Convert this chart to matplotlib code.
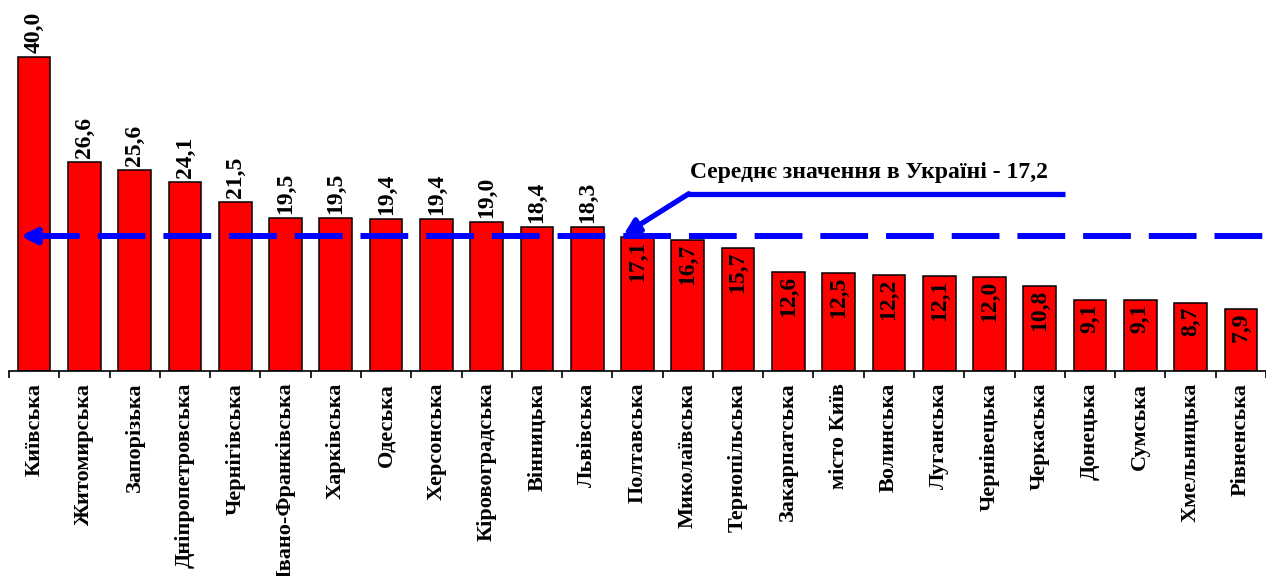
import matplotlib
matplotlib.use("Agg")
import matplotlib.pyplot as plt
import numpy as np

regions = ["Київська", "Житомирська", "Запорізька", "Дніпропетровська", "Чернігівська",
           "Івано-Франківська", "Харківська", "Одеська", "Херсонська", "Кіровоградська",
           "Вінницька", "Львівська", "Полтавська", "Миколаївська", "Тернопільська",
           "Закарпатська", "місто Київ", "Волинська", "Луганська", "Чернівецька",
           "Черкаська", "Донецька", "Сумська", "Хмельницька", "Рівненська"]
values = [40.0, 26.6, 25.6, 24.1, 21.5, 19.5, 19.5, 19.4, 19.4, 19.0, 18.4, 18.3,
          17.1, 16.7, 15.7, 12.6, 12.5, 12.2, 12.1, 12.0, 10.8, 9.1, 9.1, 8.7, 7.9]
average = 17.2
avg_label = "Середнє значення в Україні - 17,2"

FONT = "Liberation Serif"
BLUE = "#0000FF"

fig = plt.figure(figsize=(12.66, 5.76), dpi=100)
ax = fig.add_axes([9/1266, 205/576, 1257/1266, 371/576])

x = np.arange(len(values))
ax.bar(x, values, width=0.65, color="#FF0000", edgecolor="black", linewidth=1.1, zorder=2)

ax.set_xlim(-0.5, len(values) - 0.5)
ax.set_ylim(0, 47.3)

for s in ["top", "right", "left"]:
    ax.spines[s].set_visible(False)
ax.spines["bottom"].set_linewidth(1.2)
ax.set_yticks([])

ax.set_xticks(x)
ax.set_xticklabels(regions, rotation=90, fontfamily=FONT, fontweight="bold", fontsize=16)
ax.tick_params(axis="x", which="major", length=0, pad=8.5)
ax.set_xticks(np.arange(-0.5, len(values) + 0.5, 1), minor=True)
ax.tick_params(axis="x", which="minor", length=5, width=1.2, direction="out")

for xi, v in zip(x, values):
    txt = f"{v:.1f}".replace(".", ",")
    if v > average:
        ax.annotate(txt, (xi, v), xytext=(0, 3), textcoords="offset points",
                    rotation=90, ha="center", va="bottom", fontfamily=FONT,
                    fontweight="bold", fontsize=17, zorder=4)
    else:
        ax.annotate(txt, (xi, v), xytext=(0, -2.5), textcoords="offset points",
                    rotation=90, ha="center", va="top", fontfamily=FONT,
                    fontweight="bold", fontsize=17, zorder=4)

# dashed average line with arrow at left
ax.plot([-0.04, len(values) - 0.5], [average, average], color=BLUE, lw=4.3,
        dashes=(8, 3), dash_capstyle="butt", zorder=3, solid_capstyle="butt")
ax.annotate("", xy=(-0.27, average), xytext=(0.3, average),
            arrowprops=dict(arrowstyle="-|>,head_length=0.9,head_width=0.45", color=BLUE,
                            lw=4.3, shrinkA=0, shrinkB=0), zorder=3)

# annotation arrow
ax.plot([13.0, 20.5], [22.6, 22.6], color=BLUE, lw=3.8, solid_capstyle="butt", zorder=3)
ax.annotate("", xy=(11.72, average + 0.15), xytext=(13.02, 22.6),
            arrowprops=dict(arrowstyle="-|>,head_length=0.9,head_width=0.45", color=BLUE,
                            lw=3.8, shrinkA=0, shrinkB=0), zorder=3)
ax.text(13.05, 24.6, avg_label, ha="left", va="baseline", fontfamily=FONT,
        fontweight="bold", fontsize=17, zorder=4)

fig.savefig("out.png", dpi=100)
